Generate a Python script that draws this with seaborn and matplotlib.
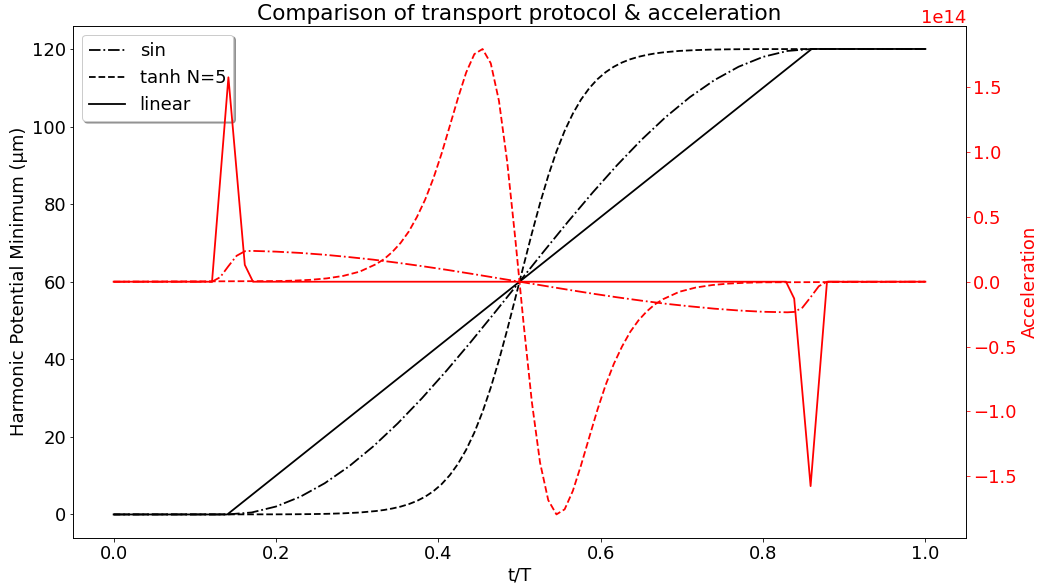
import numpy as np
import matplotlib
matplotlib.use("Agg")
import matplotlib.pyplot as plt
import seaborn as sns

# ---------------- data ----------------
# positions (µm)
t_lin = [0.0, 0.14, 0.86, 1.0]
x_lin = [0.0, 0.0, 120.0, 120.0]

t_sin = [0.0, 0.14, 0.17, 0.20, 0.23, 0.26, 0.29, 0.32, 0.35, 0.38, 0.41, 0.44,
         0.47, 0.50, 0.53, 0.56, 0.59, 0.62, 0.65, 0.68, 0.71, 0.74, 0.77, 0.80,
         0.83, 0.86, 1.0]
x_sin = [0.0, 0.0, 0.51, 2.04, 4.57, 8.04, 12.40, 17.57, 23.47, 30.0, 37.04, 44.47,
         52.17, 60.0, 67.83, 75.53, 82.96, 90.0, 96.53, 102.43, 107.60, 111.96, 115.43,
         117.96, 119.49, 120.0, 120.0]

t_tanh = [0.0, 0.2020, 0.2222, 0.2424, 0.2626, 0.2828, 0.3030, 0.3232, 0.3333, 0.3434,
          0.3535, 0.3636, 0.3737, 0.3838, 0.3939, 0.4040, 0.4141, 0.4242, 0.4343, 0.4444,
          0.4545, 0.4646, 0.4747, 0.4848, 0.4949, 0.5051, 0.5152, 0.5253, 0.5354, 0.5455,
          0.5556, 0.5657, 0.5758, 0.5859, 0.5960, 0.6061, 0.6162, 0.6263, 0.6364, 0.6465,
          0.6566, 0.6667, 0.6768, 0.6970, 0.7172, 0.7374, 0.7576, 0.7778, 0.7980, 1.0]
x_tanh = [0.0, 0.03, 0.05, 0.09, 0.16, 0.29, 0.50, 0.88, 1.16, 1.54,
          2.02, 2.66, 3.49, 4.58, 5.99, 7.80, 10.12, 13.04, 16.68, 21.12,
          26.46, 32.70, 39.78, 47.56, 55.80, 64.20, 72.44, 80.22, 87.30, 93.54,
          98.88, 103.32, 106.96, 109.88, 112.20, 114.01, 115.42, 116.51, 117.34, 117.98,
          118.46, 118.84, 119.12, 119.50, 119.71, 119.84, 119.91, 119.95, 119.97, 120.0]

# accelerations (units of 1e14)
ta_lin = [0.0, 0.1212, 0.1414, 0.1616, 0.1717, 0.8283, 0.8384, 0.8586, 0.8788, 1.0]
a_lin = [0.0, 0.0, 1.577, 0.13, 0.0, 0.0, -0.13, -1.577, 0.0, 0.0]

ta_sin = [0.0, 0.1212, 0.1313, 0.1414, 0.1515, 0.1616, 0.17, 0.20, 0.23, 0.26, 0.29,
          0.32, 0.35, 0.38, 0.41, 0.44, 0.47, 0.50, 0.53, 0.56, 0.59, 0.62, 0.65,
          0.68, 0.71, 0.74, 0.77, 0.80, 0.83, 0.8384, 0.8485, 0.8586, 0.8687, 0.8788, 1.0]
a_sin = [0.0, 0.0, 0.035, 0.12, 0.20, 0.235, 0.238, 0.232, 0.222, 0.208, 0.190,
         0.170, 0.146, 0.120, 0.092, 0.062, 0.031, 0.0, -0.031, -0.062, -0.092, -0.120,
         -0.146, -0.170, -0.190, -0.208, -0.222, -0.232, -0.236, -0.233, -0.20, -0.12,
         -0.035, 0.0, 0.0]

ta_tanh = t_tanh
a_tanh = [0.0, 0.0048, 0.0083, 0.0145, 0.0257, 0.0448, 0.0774, 0.135, 0.175, 0.230,
          0.299, 0.387, 0.500, 0.634, 0.797, 0.988, 1.201, 1.416, 1.614, 1.756,
          1.795, 1.685, 1.395, 0.927, 0.326, -0.326, -0.927, -1.395, -1.685, -1.795,
          -1.756, -1.614, -1.416, -1.201, -0.988, -0.797, -0.634, -0.500, -0.387, -0.299,
          -0.230, -0.175, -0.135, -0.0774, -0.0448, -0.0257, -0.0145, -0.0083, -0.0048, 0.0]

ACC_UNIT = 1e14

# ---------------- plot ----------------
DPI = 72
LW = 1.8
plt.rcParams['font.size'] = 18
fig = plt.figure(figsize=(1039 / DPI, 588 / DPI), dpi=DPI)
ax = fig.add_subplot(111)
fig.subplots_adjust(left=0.0703, right=0.9297, bottom=0.0855, top=0.9563)

sns.lineplot(x=t_sin, y=x_sin, ax=ax, color='black', linestyle='-.', label='sin',
             estimator=None, sort=False, lw=LW)
sns.lineplot(x=t_tanh, y=x_tanh, ax=ax, color='black', linestyle='--', label='tanh N=5',
             estimator=None, sort=False, lw=LW)
sns.lineplot(x=t_lin, y=x_lin, ax=ax, color='black', linestyle='-', label='linear',
             estimator=None, sort=False, lw=LW)
ax.set_xlim(-0.05, 1.05)
ax.set_ylim(-6, 126)
ax.set_xlabel('t/T')
ax.set_ylabel('Harmonic Potential Minimum (µm)')
ax.set_title('Comparison of transport protocol & acceleration')
ax.legend(loc='upper left', shadow=True)

ax2 = ax.twinx()
sns.lineplot(x=ta_sin, y=np.array(a_sin) * ACC_UNIT, ax=ax2, color='red', linestyle='-.',
             estimator=None, sort=False, lw=LW)
sns.lineplot(x=ta_tanh, y=np.array(a_tanh) * ACC_UNIT, ax=ax2, color='red', linestyle='--',
             estimator=None, sort=False, lw=LW)
sns.lineplot(x=ta_lin, y=np.array(a_lin) * ACC_UNIT, ax=ax2, color='red', linestyle='-',
             estimator=None, sort=False, lw=LW)
ax2.set_ylim(-1.975e14, 1.975e14)
ax2.set_ylabel('Acceleration', color='red')
ax2.tick_params(axis='y', colors='red')
ax2.yaxis.get_offset_text().set_color('red')
if ax2.get_legend() is not None:
    ax2.get_legend().remove()

fig.savefig('out.png', dpi=DPI)
